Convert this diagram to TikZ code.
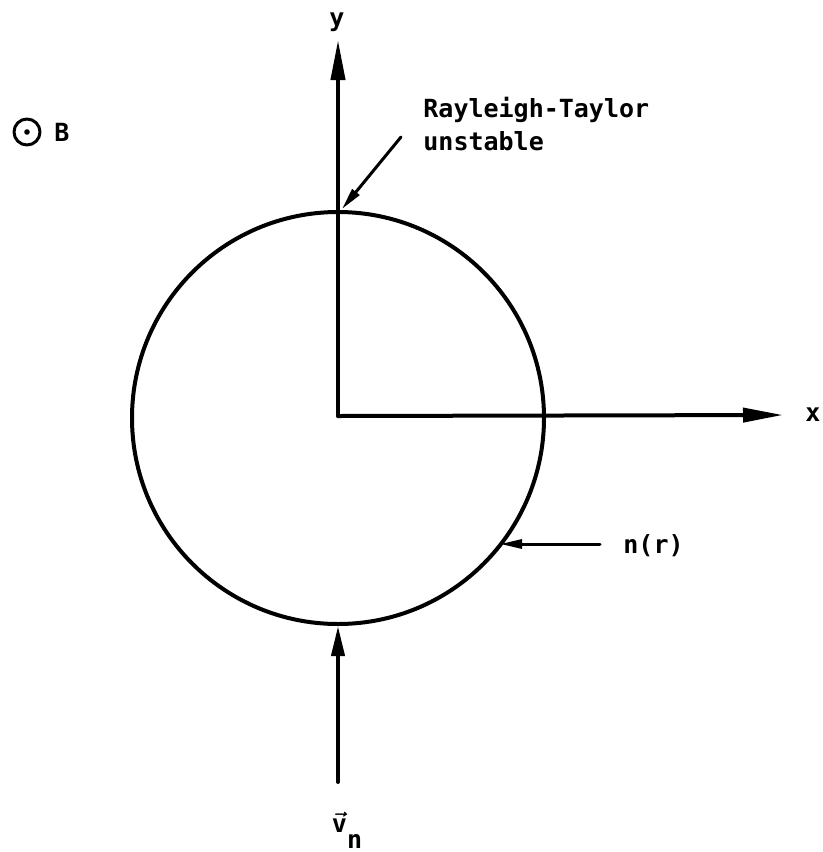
\documentclass[tikz,border=0pt]{standalone}
\usepackage{amsmath}
\usepackage{fontspec}
\setmainfont{DejaVu Sans Mono}
\usetikzlibrary{arrows.meta,positioning}
\tikzset{
    every picture/.style={line cap=round,line join=round},
    axisline/.style={-{Triangle[length=20pt,width=7pt]},line width=2pt},
    pointer/.style={-{Triangle[length=11pt,width=4.5pt]},line width=1.5pt},
    flowarrow/.style={-{Triangle[length=15pt,width=6.5pt]},line width=2pt},
    plasma/.style={draw,circle,line width=2pt,minimum size=206pt,inner sep=0pt},
    lbl/.style={inner sep=0pt,font=\fontsize{12.5}{16.5}\selectfont\bfseries,align=left}
}

\begin{document}
\begin{tikzpicture}[x=0.5pt,y=-0.5pt]
  \useasboundingbox (0,0) rectangle (823,852);
  \node[plasma] (blob) at (338,418) {};
  \coordinate (orig) at (338,416);
  \node[lbl] (ylab) at (337,22) {y};
  \node[lbl] (xlab) at (813,415) {x};
  \coordinate (ytip) at (338,40);
  \coordinate (xtip) at (783,415);
  \draw[axisline] (orig) -- (ytip);
  \draw[axisline] (orig) -- (xtip);
  % field out of the page
  \node[circle,draw,line width=1.5pt,minimum size=13pt,inner sep=0pt] (bsym) at (27,132) {};
  \fill (bsym.center) circle (2.8);
  \node[lbl] (blab) at (62,132) {B};
  % labels with pointers
  \node[lbl,anchor=west] (rtlab) at (423,124) {Rayleigh-Taylor\\unstable};
  \coordinate (rtfrom) at (401,137);
  \coordinate (rthit) at (342,209);
  \draw[pointer] (rtfrom) -- (rthit);
  \node[lbl,anchor=west] (nlab) at (623,546) {n(r)};
  \coordinate (nfrom) at (600,544);
  \coordinate (nhit) at (500,544);
  \draw[pointer] (nfrom) -- (nhit);
  \node[lbl] (vlab) at (347,830) {$\boldsymbol{\vec{\text{v}}}$\raisebox{-8pt}{n}};
  \coordinate (vfrom) at (338,782);
  \draw[flowarrow] (vfrom) -- (blob.south);
\end{tikzpicture}
\end{document}
